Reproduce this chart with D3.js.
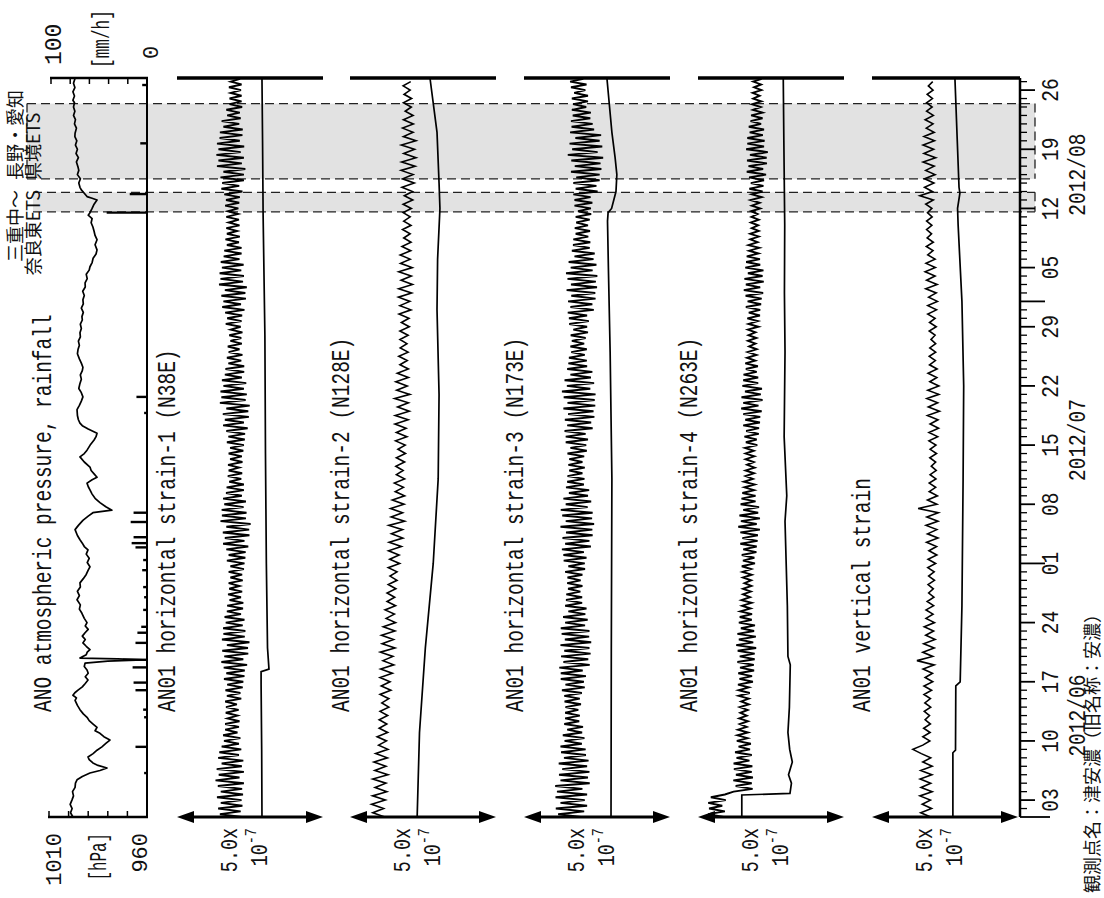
<!DOCTYPE html>
<html><head><meta charset="utf-8">
<script src="https://cdn.jsdelivr.net/npm/d3@7/dist/d3.min.js"></script>
<style>html,body{margin:0;padding:0;background:#fff}svg{display:block}</style>
</head><body>
<svg id="chart" width="1104" height="898"></svg>
<script>
// ================= DATA =================
const tickLabels = ["03","10","17","24","01","08","15","22","29","05","12","19","26"];
const monthLabels = ["2012/06","2012/07","2012/08"];
const monthLabelDays = [12.0, 44.6, 76.0];
const pressureTicks = [1010,1000,990,980,970,960];
const rainTicks = [100,80,60,40,20,0];
const eventBands = [[71.6,73.9],[75.5,84.4]];
const eventLabel1 = ["三重中～","奈良東ETS"];
const eventLabel2 = ["長野・愛知","県境ETS"];
const panelTitles = ["ANO atmospheric pressure, rainfall","AN01 horizontal strain-1 (N38E)","AN01 horizontal strain-2 (N128E)","AN01 horizontal strain-3 (N173E)","AN01 horizontal strain-4 (N263E)","AN01 vertical strain"];
const scaleLabel = ["5.0x","10","-7"];
const footNote = "観測点名：津安濃（旧名称：安濃）";

// atmospheric pressure [hPa], read at days after 2012-06-01 00:00
const pressureDays = [0,0.5,1,1.5,2,2.5,3,3.5,4,4.4,4.8,5.2,5.5,5.8,6.1,6.4,6.8,7.1,7.5,7.9,8.3,8.7,9.1,9.5,9.9,10.2,10.6,11.0,11.4,11.8,12.2,12.7,13.2,13.8,14.1,14.4,14.7,15.0,15.4,15.8,16.2,16.6,17.0,17.4,17.8,18.2,18.45,18.6,18.7,18.8,19.2,19.5,19.8,20.2,20.6,21.0,21.4,21.8,22.2,22.6,23.0,23.5,24.1,24.6,25.1,25.7,26.2,26.7,27.2,27.7,28.2,28.7,29.2,29.6,30.1,30.6,31.1,31.6,32.0,32.4,32.8,33.3,34.0,34.5,35.1,35.6,36.0,36.3,36.7,37.2,37.7,38.2,38.7,39.1,39.5,39.9,40.2,40.6,41.0,41.4,42.0,42.6,43.0,43.4,44.0,44.6,45.0,45.4,45.9,46.3,46.6,47.0,47.5,48.2,48.7,49.2,49.7,50.2,50.7,51.3,51.8,52.3,52.8,53.2,53.7,54.2,54.8,55.3,55.8,56.3,56.8,57.3,57.8,58.3,58.8,59.2,59.7,60.2,60.7,61.2,61.7,62.2,62.7,63.2,63.7,64.2,64.7,65.1,65.6,66.1,66.6,67.1,67.7,68.3,68.8,69.3,69.8,70.3,70.8,71.2,71.5,72.0,72.5,73.0,73.2,73.4,73.8,74.2,74.5,75.0,75.5,76.0,76.5,76.9,77.5,78.0,78.5,79.0,79.5,80.0,80.5,80.9,81.5,82.0,82.5,83.0,83.5,84.0,84.5,84.8,85.3,85.8,86.3,86.8,87.4];
const pressureHPa = [997.8,999.0,998.2,999.2,998.3,997.5,998.0,996.7,996.5,995.7,993,989.1,984,980.4,985,987.6,989.5,990.1,987.5,985.5,983,981,978.9,982,984.0,986.5,985.5,987.5,989.5,990.6,992.5,994.2,995.5,996.7,996.0,997.8,996.8,995.2,993,991.5,990.1,991.5,990.0,990.6,992,991.6,980,962.0,975,994.2,991,990.5,989.1,991,992.7,991.5,993,991.6,990,991.5,990.6,992,993.2,994.5,994,995.7,994.5,995.5,994,994.2,992.5,991,990,989.1,990.5,989.5,991,990.1,992,993,994.2,995.5,996.7,995,992.7,990,987.6,977.9,981,984.0,986.5,988,989.1,990,990.6,988,985.5,987,988.5,989.1,992,994.2,992,990.6,989,987,986,985.5,990,993,994.2,995,995.5,995.7,994.5,993.5,992.7,993.5,994.8,994.2,993.5,994,993,992.7,993.5,994.5,995.5,995.2,994.5,995,994,994.2,993.5,994,993,993.2,992.5,993.5,992.5,992.7,992,992.8,991.5,991.6,990.5,991,989.5,989.1,988,987.5,986,985.5,986.5,985.5,986.5,987,987.6,988.5,988,990,989.1,988,987,985.5,988,990.6,992,993.5,994.2,994.8,994,995.5,994.8,995.2,996,995,996.2,995.5,996.5,995.8,996.8,996.7,996,997,996.5,997.5,996.8,997.5,997,997.8,997,997.8,996.8,997.5,996.7];
// rainfall [mm/h]
const rainDays = [5.2,8.3,11.8,12.7,15.0,15.9,17.7,18.6,20.6,21.8,22.5,24.5,26.0,27.2,29.2,30.4,31.9,32.4,33.1,34.9,36.0,47.8,49.7,71.5,73.7,79.7,86.6];
const rainMM   = [3,12,3,4,12,14,15,25,12,10,6,4,3,4,5,4,12,16,14,17,14,3,11,42,18,7,5];

// strain, units 1e-8 (panel width = 50e-8 = 5.0e-7), regular samples from 2012-06-01 00:00
const rawStep = [1/3, 0.5, 1/3, 1/3, 0.5]; // days between samples
const s1Raw = [22.2,14.7,21.8,14.1,22.4,15.0,22.1,13.7,22.6,15.0,22.3,14.0,22.9,13.2,21.4,14.3,22.9,13.6,22.2,15.3,22.7,14.1,21.2,14.5,22.0,15.3,21.2,16.1,21.7,15.8,20.7,16.5,21.2,16.5,21.4,17.3,20.7,16.7,21.1,16.8,20.5,16.5,22.0,17.1,21.7,16.6,22.5,17.2,22.7,16.1,23.1,16.9,23.2,16.0,24.0,15.2,22.7,16.2,24.4,15.5,24.3,17.1,24.8,15.4,23.2,15.9,23.4,15.8,22.5,16.7,23.1,16.3,21.9,17.1,22.6,17.2,22.7,18.0,21.9,17.5,22.3,17.9,21.4,17.7,22.5,18.3,22.3,17.7,22.9,18.3,23.1,17.1,23.4,17.7,23.5,16.9,24.4,15.8,23.1,16.4,24.8,15.7,24.7,16.9,25.2,14.9,23.6,15.4,23.8,15.3,22.8,16.2,23.6,15.8,22.2,16.8,22.9,17.0,22.9,17.9,22.0,17.4,22.3,17.7,21.3,17.5,22.4,18.2,22.2,17.7,22.7,18.2,22.9,17.1,23.2,17.6,23.3,16.9,24.2,15.8,22.9,16.4,24.6,15.7,24.4,16.9,24.9,14.7,23.5,15.2,23.9,14.9,22.9,15.9,23.7,15.4,22.2,16.4,23.0,16.6,23.0,17.6,22.0,17.1,22.4,17.7,21.4,17.4,22.2,18.3,22.0,17.9,22.4,18.4,21.8,16.7,22.1,17.2,22.3,16.5,23.1,15.5,21.9,15.9,23.6,15.2,23.4,16.4,23.9,14.4,22.6,14.9,22.9,14.6,22.0,15.4,22.8,15.0,21.4,16.0,22.1,16.2,22.1,17.1,21.2,16.6,21.5,17.1,20.6,16.9,21.4,17.7,21.2,16.9,20.9,17.4,21.0,16.5,21.3,16.8,21.5,16.2,22.4,15.2,21.3,15.5,22.9,14.9,22.9,15.9,23.4,13.7,22.2,14.2,22.9,13.5,21.8,14.2,23.0,13.7,21.5,14.6,22.4,14.7,22.5,15.9,21.3,15.3,21.8,17.2,21.5,16.9,22.3,18.0,22.1,18.0,22.1,18.4,21.9,17.8,22.1,18.4,21.6,17.9];
const s2Raw = [11.9,7.8,11.5,7.4,12.1,7.7,12.6,8.6,12.3,7.8,13.0,8.5,12.3,8.2,12.8,8.8,13.0,9.8,12.5,9.3,12.9,10.0,12.6,10.0,12.9,10.3,13.3,10.9,13.3,10.3,14.0,10.7,13.7,10.3,14.5,10.5,15.0,11.3,14.7,10.4,15.4,11.0,14.9,10.8,15.4,11.4,15.6,12.4,15.2,12.0,15.6,12.7,15.3,12.7,15.7,13.1,16.1,13.7,16.1,13.1,17.0,13.6,16.8,13.2,17.6,13.4,18.1,14.2,18.0,13.3,18.7,14.1,18.0,13.9,18.5,14.5,18.7,15.5,18.3,15.2,18.7,15.9,18.2,15.7,18.7,15.9,19.0,16.4,18.9,15.6,19.5,15.9,19.2,15.4,19.9,15.5,20.3,16.3,20.0,15.3,20.5,16.0,19.6,15.7,20.0,16.2,20.0,17.1,19.6,16.7,19.9,17.2,19.5,17.1,19.9,17.1,20.3,17.6,20.2,16.8,20.9,17.1,20.5,16.6,21.1,16.7,21.4,17.5,21.0,16.7,21.3,17.3,20.6,17.2,20.8,17.8,20.9,18.4,20.6,18.0,20.9,18.4,20.6,18.2,21.0,18.2,21.5,18.6,21.4,17.8,22.0,18.0,21.6,17.5,22.3,17.7,22.6,18.4,22.1,17.6,22.6,18.3,21.6,18.0,21.7,18.3,21.6,18.9,21.0,18.3,21.1,18.5,20.6,18.2,20.8,18.2];
const s3Raw = [19.5,11.7,20.6,10.9,21.6,12.5,20.8,10.8,21.6,11.3,20.0,10.7,22.5,12.5,21.9,12.0,22.4,13.1,21.6,11.9,22.1,13.7,21.2,12.7,21.1,12.5,19.8,13.9,20.7,13.3,19.9,14.8,20.2,13.8,18.9,14.1,19.1,14.1,18.6,14.2,19.5,13.9,19.1,13.8,19.8,13.0,20.8,14.2,20.5,12.6,21.2,12.6,20.1,12.1,22.5,13.5,22.0,12.7,22.8,13.8,22.4,12.5,23.0,14.0,22.3,12.9,22.4,12.6,20.9,14.1,21.8,13.4,21.0,15.2,21.4,14.1,19.9,14.4,19.9,14.5,19.3,15.1,20.0,14.8,19.4,14.9,20.0,14.1,20.9,15.2,20.8,13.6,21.4,13.5,20.5,13.0,22.9,14.1,22.4,13.2,23.5,14.4,23.4,12.5,24.0,14.3,23.3,13.1,23.5,12.6,21.8,14.3,23.0,13.5,21.9,15.4,22.3,14.4,20.5,14.8,20.7,14.9,20.0,15.5,20.8,15.2,20.0,15.5,20.6,14.9,21.5,15.9,21.3,14.3,21.9,14.3,21.1,13.9,23.5,14.8,23.0,14.0,24.1,15.1,23.8,13.5,24.4,14.9,24.2,13.6,24.5,13.0,22.7,14.7,24.0,13.9,22.9,15.9,23.4,14.8,21.6,15.2,21.5,15.4,20.8,16.2,21.5,15.9,20.6,16.4,21.1,16.0,21.9,16.9,21.6,15.5,22.2,15.4,21.6,15.0,23.9,15.9,23.4,15.1,24.5,16.2,24.4,14.6,25.0,16.1,24.6,14.9,25.1,14.4,23.5,16.0,24.8,15.3,23.8,17.3,24.2,16.4,22.5,16.8,22.7,16.9,22.0,17.7,22.6,17.4,21.9,17.9,22.5,17.7,23.0,18.5,22.9,17.3,23.4,17.3,22.8,16.9,25.2,17.7,24.8,16.9,25.9,17.9,25.9,16.1,26.5,17.4,26.2,16.2,27.1,15.0,25.2,16.5,26.8,15.6,25.9,17.6,26.4,15.8,24.0,16.3,23.5,16.1,22.7,16.7,22.9,16.4,21.3,16.8,21.9,16.4,21.9,17.2,21.0,16.1,21.4,15.8,20.3,15.5];
const s4Raw = [8.8,3.5,9.2,3.8,8.3,3.5,9.5,4.4,9.2,12.2,18.7,12.9,18.4,12.1,18.8,13.0,18.4,12.3,18.6,12.2,17.6,13.2,18.4,12.7,17.8,13.9,18.1,13.3,17.0,13.5,17.1,13.7,16.7,14.3,17.1,14.1,16.7,14.5,17.0,14.3,17.4,14.8,17.4,13.9,17.7,13.9,17.4,13.7,18.8,14.2,18.5,13.8,19.2,14.4,19.1,13.5,19.4,14.3,19.4,13.6,19.9,13.1,18.9,14.0,19.8,13.5,19.2,14.7,19.5,14.0,18.4,14.3,18.5,14.5,18.0,15.1,18.4,14.9,17.8,15.4,18.1,15.4,18.3,15.9,18.2,15.4,18.4,15.2,18.2,15.0,19.5,15.4,19.3,15.0,20.0,15.5,20.1,14.5,20.4,15.2,20.5,14.5,21.2,13.8,20.1,14.7,21.2,14.2,20.6,15.5,20.9,14.6,19.7,14.9,19.7,15.2,19.2,15.9,19.4,15.7,18.8,16.3,19.2,16.3,19.4,16.8,19.1,16.3,19.3,16.3,19.1,16.1,20.3,16.4,20.1,15.9,20.8,16.5,20.9,15.5,21.2,16.2,21.3,15.5,21.8,14.8,20.7,15.5,22.1,14.9,21.5,16.1,21.9,15.2,20.6,15.5,20.6,15.6,20.1,16.4,20.5,16.2,19.6,16.8,20.0,17.0,20.1,17.5,19.7,17.1,20.0,17.3,19.7,17.1,20.7,17.3,20.5,16.9,21.2,17.4,21.3,16.4,21.6,17.0,21.8,16.3,22.3,15.7,21.3,16.4,22.5,15.9,22.1,17.1,22.4,16.2,21.3,16.5,21.2,16.7,20.7,17.5,21.0,17.3,20.4,17.9,20.8,17.9,20.8,18.4,20.6,18.1,20.8,18.3,20.4,18.2,21.3,18.4,21.1,18.0,21.8,18.4,22.1,17.6,22.4,18.1,22.6,17.5,23.3,16.7,22.3,17.3,23.6,16.8,23.5,17.8,23.9,16.5,22.6,16.9,22.8,16.9,22.2,17.7,22.6,17.4,21.6,18.0,22.1,18.2,22.1,18.8,21.5,18.5,21.7,18.9,21.1,18.7,21.7,19.2,21.6,18.9,21.8,19.2];
const s5Raw = [20.1,16.7,20.4,17.2,20.0,16.4,20.6,16.8,20.1,16.5,20.5,16.7,20.6,17.4,20.1,16.9,14.0,17.4,19.8,17.4,19.9,17.7,20.0,18.2,19.7,17.9,20.1,18.1,20.0,17.8,20.4,17.8,20.8,18.2,20.7,17.5,21.3,15.4,20.8,17.4,21.3,17.7,21.6,18.4,21.1,17.9,21.4,18.5,20.9,18.5,21.1,18.9,21.2,19.4,21.0,19.2,21.4,19.4,21.3,19.1,21.8,19.2,22.2,19.5,22.1,18.7,22.6,19.0,22.2,18.5,22.6,18.8,22.7,15.8,22.2,19.0,22.4,19.6,21.8,19.6,21.9,19.9,22.0,20.3,21.8,19.8,22.1,19.9,21.9,19.5,22.5,19.5,22.8,19.9,22.6,19.0,23.1,19.3,22.5,18.8,22.9,19.1,22.9,19.8,22.2,19.2,22.3,19.7,21.7,19.6,21.8,19.8,21.8,20.2,21.6,19.6,22.0,19.7,21.6,19.1,22.1,19.1,22.4,19.4,22.0,18.4,22.3,18.7,21.6,18.2,21.7,18.5,21.6,19.1,20.9,18.6,21.0,18.9,20.4,18.7,20.5,18.7,20.6,19.0,20.5,18.4,21.0,16.4,20.7,18.0,21.2,18.0,21.6,18.4,21.3,17.5,21.8,17.8,21.1,17.5,21.4,17.8,21.3,18.6,20.9,18.2,21.0,18.7,20.6,18.7,20.7,18.9,20.9,19.3,20.8,18.8];
// tide-corrected traces, [day, value 1e-8]
const s1CorDays = [0,8,15.7,17.2,17.5,20,30,43,57,71,80,87.4];
const s1Cor     = [29.1,29.0,28.8,28.8,31.5,31.0,30.6,30.3,30.1,29.5,29.3,29.1];
const s2CorDays = [0,10,20,30,40,50,60,66,72,75,81,87.4];
const s2Cor     = [23.0,23.8,25.8,28.5,30.2,30.5,29.8,30.0,30.8,30.5,29.8,27.4];
const s3CorDays = [0,20,40,55,65,70.5,71.5,72,74,76,78,81,87.4];
const s3Cor     = [29.8,29.9,30.1,29.5,28.9,28.6,28.8,30.0,31.5,31.8,31.2,30.1,28.4];
const s4CorDays = [0,2.6,2.8,4,5,6.5,8,10,13,18,19,25,35,38,45,55,62,70,80,87.4];
const s4Cor     = [15.0,15.0,31.5,32.0,31.0,32.3,31.4,30.8,31.3,31.6,30.8,30.6,29.8,30.4,29.5,29.8,29.6,29.7,29.4,29.2];
const s5CorDays = [0,7.6,7.9,15.5,16.0,25,40,51,61,70,72,73.8,74.5,80,87.4];
const s5Cor     = [27.7,27.7,28.6,28.7,30.2,30.8,31.2,31.4,30.8,29.5,29.3,30.1,29.8,29.2,28.4];
const rawSeries = [s1Raw,s2Raw,s3Raw,s4Raw,s5Raw];
const corSeries = [[s1CorDays,s1Cor],[s2CorDays,s2Cor],[s3CorDays,s3Cor],[s4CorDays,s4Cor],[s5CorDays,s5Cor]];

// ================= LAYOUT =================
const svg = d3.select("#chart");
const DAY = 864e5, T0 = Date.UTC(2012,5,1), TEND = 87.43, T1 = T0 + TEND*DAY;
const y = d3.scaleUtc().domain([new Date(T0), new Date(T1)]).range([817,78]);
const yd = d => y(new Date(T0 + d*DAY));
const TOP = 78, BOT = 817, AXX = 1020;
const panelLeft = [177,350,524,698,872], PW = 146;
const MONO = "'Liberation Mono','DejaVu Sans Mono',monospace";
const CJK = "'Noto Sans CJK JP','Noto Sans CJK SC',sans-serif";

function vtext(g, x, yy, str, opt={}) {
  return g.append("g").attr("transform", `translate(${x},${yy}) rotate(-90) scale(${opt.sx||1},1)`)
    .append("text").attr("x",0).attr("y",0)
    .attr("dominant-baseline","central")
    .attr("text-anchor", opt.anchor||"start")
    .attr("font-family", opt.font||MONO)
    .attr("font-size", opt.size||22)
    .attr("fill","#111").text(str);
}

// event bands
const gb = svg.append("g");
eventBands.forEach((b,i)=>{
  const y1 = yd(b[1]), y0 = yd(b[0]);
  const xl = i===0 ? 33 : 27;
  gb.append("rect").attr("x",xl).attr("y",y1).attr("width",1035-xl).attr("height",y0-y1).attr("fill","#e2e2e2");
  const ln = (x1,ya,x2,yb)=>gb.append("line").attr("x1",x1).attr("y1",ya).attr("x2",x2).attr("y2",yb)
      .attr("stroke","#222").attr("stroke-width",1.3).attr("stroke-dasharray","9,5");
  ln(xl,y1,1035,y1); ln(xl,y0,1035,y0); ln(1035,y1,1035,y0);
  if(i===1) ln(xl,y1,xl,y0);
});

// pressure / rainfall panel
const px = d3.scaleLinear().domain([1010,960]).range([49,147]);
const rx = d3.scaleLinear().domain([100,0]).range([51,147]);
const gp = svg.append("g");
gp.append("line").attr("x1",147).attr("x2",147).attr("y1",TOP).attr("y2",BOT).attr("stroke","#000").attr("stroke-width",2);
gp.append("line").attr("x1",48).attr("x2",148).attr("y1",BOT).attr("y2",BOT).attr("stroke","#000").attr("stroke-width",2.5);
gp.append("line").attr("x1",50).attr("x2",148).attr("y1",TOP).attr("y2",TOP).attr("stroke","#000").attr("stroke-width",2.5);
pressureTicks.forEach(p=>gp.append("line").attr("x1",px(p)).attr("x2",px(p)).attr("y1",BOT).attr("y2",BOT-6).attr("stroke","#000").attr("stroke-width",1.5));
rainTicks.forEach(r=>gp.append("line").attr("x1",rx(r)).attr("x2",rx(r)).attr("y1",TOP).attr("y2",TOP+6).attr("stroke","#000").attr("stroke-width",1.5));
rainDays.forEach((d,i)=>gp.append("line").attr("x1",rx(0)).attr("x2",rx(rainMM[i])).attr("y1",yd(d)).attr("y2",yd(d)).attr("stroke","#000").attr("stroke-width",2.4));
const np = Math.min(pressureDays.length, pressureHPa.length);
gp.append("path").datum(d3.range(np).map(i=>[pressureDays[i],pressureHPa[i]]))
  .attr("d", d3.line().x(d=>px(d[1])).y(d=>yd(d[0])))
  .attr("fill","none").attr("stroke","#000").attr("stroke-width",1.7).attr("stroke-linejoin","round");
vtext(gp, 55, 833, "1010", {anchor:"end", size:22});
vtext(gp, 100, 833, "[hPa]", {anchor:"end", size:24, sx:0.66});
vtext(gp, 141, 833, "960", {anchor:"end", size:22});
vtext(gp, 55, 65, "100", {anchor:"start", size:23});
vtext(gp, 103, 68, "[mm/h]", {anchor:"start", size:24, sx:0.67});
vtext(gp, 152, 59, "0", {anchor:"start"});

// titles
const titleX = [44,168,342,516,690,863];
panelTitles.forEach((t,i)=>vtext(svg, titleX[i], 712, t, {size:25, sx:0.78}));

// strain panels
panelLeft.forEach((L,k)=>{
  const g = svg.append("g");
  const xs = d3.scaleLinear().domain([0,50]).range([L, L+PW]);
  const xEnd = k===4 ? AXX : L+PW;
  g.append("line").attr("x1",L).attr("x2",xEnd).attr("y1",TOP).attr("y2",TOP).attr("stroke","#000").attr("stroke-width",3.5);
  const a0 = xs(0), a1 = xs(50);
  g.append("line").attr("x1",a0+12).attr("x2",a1-12).attr("y1",BOT).attr("y2",BOT).attr("stroke","#000").attr("stroke-width",3);
  g.append("path").attr("d",`M${a0},${BOT} L${a0+17},${BOT-6} L${a0+17},${BOT+6} Z M${a1},${BOT} L${a1-17},${BOT-6} L${a1-17},${BOT+6} Z`).attr("fill","#000");
  vtext(g, L+54, 828, scaleLabel[0], {anchor:"end", size:23, sx:0.8});
  const t = vtext(g, L+83, 828, "", {anchor:"end", size:23, sx:0.8});
  t.append("tspan").text(scaleLabel[1]);
  t.append("tspan").attr("dy",-8).attr("font-size",17).text(scaleLabel[2]);
  const raw = rawSeries[k].map((v,i)=>[i*rawStep[k],v]).filter(d=>d[0]<=TEND);
  g.append("path").datum(raw).attr("d",d3.line().x(d=>xs(d[1])).y(d=>yd(d[0])))
    .attr("fill","none").attr("stroke","#000").attr("stroke-width",rawStep[k]<0.4?1.9:1.6).attr("stroke-linejoin","miter");
  const [cd,cv] = corSeries[k];
  g.append("path").datum(cd.map((d,i)=>[d,cv[i]])).attr("d",d3.line().x(d=>xs(d[1])).y(d=>yd(d[0])))
    .attr("fill","none").attr("stroke","#000").attr("stroke-width",1.7);
});

// time axis
const ga = svg.append("g");
ga.append("line").attr("x1",AXX).attr("x2",AXX).attr("y1",TOP).attr("y2",BOT).attr("stroke","#000").attr("stroke-width",2.5);
d3.utcDay.range(new Date(T0), new Date(T1)).forEach(dt=>{
  const isMonth = dt.getUTCDate()===1, isWeek = dt.getUTCDay()===0;
  const len = dt.getTime()===T0 ? 30 : isMonth ? 25 : isWeek ? 15 : 7;
  ga.append("line").attr("x1",AXX).attr("x2",AXX+len).attr("y1",y(dt)).attr("y2",y(dt)).attr("stroke","#000").attr("stroke-width",isWeek||isMonth?1.8:1.3);
});
d3.utcSunday.range(new Date(T0), new Date(T1)).forEach((dt,i)=>{
  vtext(ga, 1052, y(dt), tickLabels[i], {anchor:"middle", size:23, sx:0.85});
});
monthLabels.forEach((m,i)=>vtext(ga, 1079, yd(monthLabelDays[i]), m, {anchor:"middle", size:23, sx:0.85}));

// event labels
vtext(svg, 14, 190, eventLabel1[0], {anchor:"end", font:CJK, size:18});
vtext(svg, 32, 190, eventLabel1[1], {anchor:"end", font:CJK, size:18});
vtext(svg, 14, 180, eventLabel2[0], {anchor:"start", font:CJK, size:18});
vtext(svg, 32, 180, eventLabel2[1], {anchor:"start", font:CJK, size:18});
// footnote (bottom right)
vtext(svg, 1091, 893, footNote, {anchor:"start", font:CJK, size:18});
</script>
</body></html>
